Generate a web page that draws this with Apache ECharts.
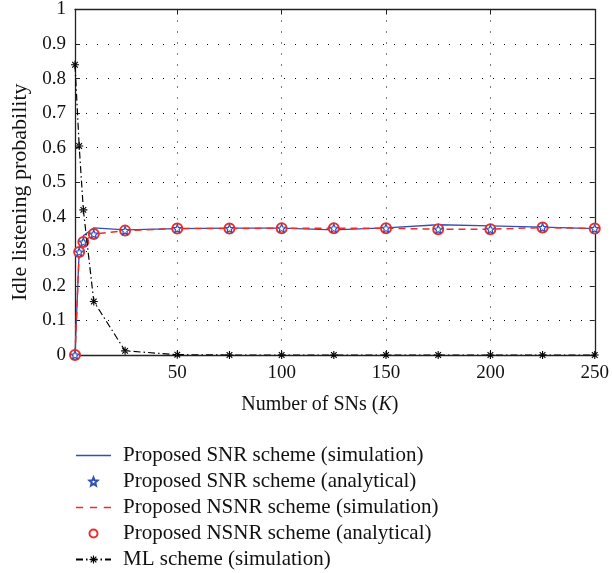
<!DOCTYPE html>
<html>
<head>
<meta charset="utf-8">
<script src="https://cdn.jsdelivr.net/npm/echarts@6/dist/echarts.min.js"></script>
<style>
  html, body { margin: 0; padding: 0; background: #fff; }
  #chart { width: 612px; height: 573px; }
</style>
</head>
<body>
<div id="chart"></div>
<script>
// Number of sensor nodes K
const numSNs = [1, 3, 5, 10, 25, 50, 75, 100, 125, 150, 175, 200, 225, 250];
// Idle listening probability per scheme
const snrSimulation  = [0, 0.300, 0.345, 0.368, 0.362, 0.366, 0.367, 0.367, 0.362, 0.368, 0.377, 0.374, 0.370, 0.366];
const snrAnalytical  = [0, 0.298, 0.327, 0.350, 0.360, 0.366, 0.366, 0.367, 0.367, 0.367, 0.364, 0.364, 0.369, 0.366];
const nsnrSimulation = [0, 0.298, 0.327, 0.350, 0.360, 0.366, 0.366, 0.367, 0.367, 0.367, 0.364, 0.364, 0.369, 0.366];
const nsnrAnalytical = [0, 0.298, 0.327, 0.350, 0.360, 0.366, 0.366, 0.367, 0.367, 0.367, 0.364, 0.364, 0.369, 0.366];
const mlSimulation   = [0.84, 0.605, 0.42, 0.155, 0.012, 0.001, 0, 0, 0, 0, 0, 0, 0, 0];

const xTicks = [50, 100, 150, 200, 250];
const seriesNames = [
  'Proposed SNR scheme (simulation)',
  'Proposed SNR scheme (analytical)',
  'Proposed NSNR scheme (simulation)',
  'Proposed NSNR scheme (analytical)',
  'ML scheme (simulation)'
];

const FONT = '"Liberation Serif", "DejaVu Serif", serif';
const BLUE = '#2f50b4';
const RED = '#f42a2a';

const pairs = ys => numSNs.map((k, i) => [k, ys[i]]);

// hollow five-pointed star
const STAR = 'path://M0,-10L2.645,-3.64L9.51,-3.09L4.28,1.39L5.88,8.09L0,4.5L-5.88,8.09L-4.28,1.39L-9.51,-3.09L-2.645,-3.64Z';
// asterisk made of four thin bars
const ASTERISK = 'path://M-0.7,-5L0.7,-5L0.7,5L-0.7,5Z' +
  'M-5,-0.7L-5,0.7L5,0.7L5,-0.7Z' +
  'M-4.03,-3.04L-3.04,-4.03L4.03,3.04L3.04,4.03Z' +
  'M3.04,-4.03L4.03,-3.04L-3.04,4.03L-4.03,3.04Z';
// legend keys for the plain simulation curves
const SOLID_KEY = 'path://M0,0L35,0L35,1.3L0,1.3Z';
const DASHED_KEY = 'path://M0,0L7,0L7,1.5L0,1.5Z M13.5,0L20.5,0L20.5,1.5L13.5,1.5Z M27,0L34,0L34,1.5L27,1.5Z';

const chart = echarts.init(document.getElementById('chart'), null, { renderer: 'canvas' });

const gridLine = { show: true, lineStyle: { color: '#000', width: 1, type: [1, 10] } };
const axisLine = { show: true, onZero: false, lineStyle: { color: '#222', width: 1.3 } };

chart.setOption({
  animation: false,
  backgroundColor: '#fff',
  grid: { left: 75, right: 14, top: 9, bottom: 218, containLabel: false },
  xAxis: [
    {
      type: 'value', position: 'bottom', min: 1, max: 250,
      axisLine: axisLine,
      axisTick: { show: true, inside: true, length: 5, customValues: xTicks, lineStyle: { color: '#222' } },
      axisLabel: { customValues: xTicks, color: '#111', fontFamily: FONT, fontSize: 19, margin: 9 },
      splitLine: gridLine,
      name: 'Number of SNs ({i|K})',
      nameLocation: 'middle',
      nameGap: 40,
      nameTextStyle: {
        color: '#111', fontFamily: FONT, fontSize: 20, padding: [0, 30, 0, 0],
        rich: { i: { fontStyle: 'italic', fontFamily: FONT, fontSize: 20, color: '#111' } }
      }
    },
    {
      type: 'value', position: 'top', min: 1, max: 250,
      axisLine: axisLine,
      axisTick: { show: true, inside: true, length: 5, customValues: xTicks, lineStyle: { color: '#222' } },
      axisLabel: { show: false },
      splitLine: { show: false }
    }
  ],
  yAxis: [
    {
      type: 'value', position: 'left', min: 0, max: 1, interval: 0.1,
      axisLine: axisLine,
      axisTick: { show: true, inside: true, length: 5, lineStyle: { color: '#222' } },
      axisLabel: {
        color: '#111', fontFamily: FONT, fontSize: 19, margin: 9,
        formatter: v => String(Math.round(v * 10) / 10)
      },
      splitLine: gridLine,
      name: 'Idle listening probability',
      nameLocation: 'middle',
      nameGap: 43,
      nameTextStyle: { color: '#111', fontFamily: FONT, fontSize: 22, padding: [0, 20, 0, 0] }
    },
    {
      type: 'value', position: 'right', min: 0, max: 1, interval: 0.1,
      axisLine: axisLine,
      axisTick: { show: true, inside: true, length: 5, lineStyle: { color: '#222' } },
      axisLabel: { show: false },
      splitLine: { show: false }
    }
  ],
  legend: {
    orient: 'vertical',
    left: 75,
    top: 445,
    height: 128,
    padding: 0,
    itemWidth: 35,
    itemHeight: 10,
    itemGap: 5,
    symbolKeepAspect: true,
    data: [
      { name: seriesNames[0], icon: SOLID_KEY },
      { name: seriesNames[1] },
      { name: seriesNames[2], icon: DASHED_KEY },
      { name: seriesNames[3] },
      { name: seriesNames[4] }
    ],
    textStyle: { color: '#111', fontFamily: FONT, fontSize: 21, lineHeight: 21, padding: [0, 0, 0, 7] }
  },
  series: [
    {
      name: seriesNames[0], type: 'line', data: pairs(snrSimulation),
      symbol: 'none', color: BLUE,
      lineStyle: { color: BLUE, width: 1.3 }, z: 3
    },
    {
      name: seriesNames[1], type: 'line', data: pairs(snrAnalytical),
      symbol: STAR, symbolSize: 8, color: BLUE,
      itemStyle: { color: 'rgba(0,0,0,0)', borderColor: BLUE, borderWidth: 1.2 },
      lineStyle: { opacity: 0, width: 0 }, z: 5
    },
    {
      name: seriesNames[2], type: 'line', data: pairs(nsnrSimulation),
      symbol: 'none', color: RED,
      lineStyle: { color: RED, width: 1.5, type: [7, 5] }, z: 4
    },
    {
      name: seriesNames[3], type: 'line', data: pairs(nsnrAnalytical),
      symbol: 'emptyCircle', symbolSize: 10, color: RED,
      itemStyle: { color: RED, borderColor: RED, borderWidth: 1.5 },
      lineStyle: { opacity: 0, width: 0 }, z: 4
    },
    {
      name: seriesNames[4], type: 'line', data: pairs(mlSimulation),
      symbol: ASTERISK, symbolSize: 8, color: '#000',
      itemStyle: { color: '#000' },
      lineStyle: { color: '#000', width: 1.2, type: [7, 3, 1.5, 3] }, z: 6
    }
  ]
});
</script>
</body>
</html>
